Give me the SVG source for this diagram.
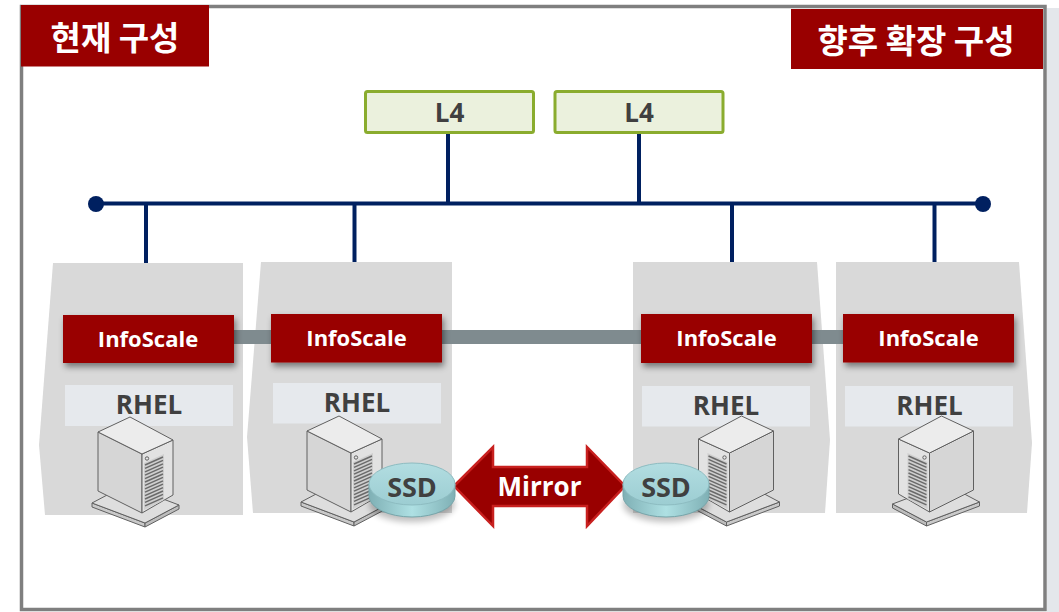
<svg xmlns="http://www.w3.org/2000/svg" xmlns:xlink="http://www.w3.org/1999/xlink" width="1059" height="612" viewBox="0 0 1059 612">
  <style>
    .frame { fill: #ffffff; stroke: #7f7f7f; stroke-width: 3.5; }
    .tag { fill: #990000; }
    .tag-text { font-family: "Noto Sans CJK KR", "Noto Sans", sans-serif; font-weight: 700; font-size: 33px; fill: #ffffff; }
    .l4 { fill: #ebf1dd; stroke: #8aac2e; stroke-width: 3; }
    .l4-text { font-family: "Open Sans", "Liberation Sans", sans-serif; font-weight: 700; font-size: 26px; fill: #404040; text-anchor: middle; }
    .net { stroke: #002060; stroke-width: 4; fill: none; }
    .panel { fill: #d9d9d9; }
    .hb { fill: #7f8b8f; }
    .infoscale { fill: #990000; }
    .is-text { font-family: "Open Sans", "Liberation Sans", sans-serif; font-weight: 700; font-size: 22px; fill: #ffffff; text-anchor: middle; }
    .os { fill: #e6e9ed; }
    .os-text { font-family: "Open Sans", "Liberation Sans", sans-serif; font-weight: 700; font-size: 26px; fill: #404040; text-anchor: middle; }
    .srv { stroke: #606060; stroke-width: 1; stroke-linejoin: round; }
    .vent { stroke: #6a6a6a; stroke-width: 1.4; }
    .disk-text { font-family: "Open Sans", "Liberation Sans", sans-serif; font-weight: 700; font-size: 27px; fill: #404040; text-anchor: middle; }
    .mirror-text { font-family: "Open Sans", "Liberation Sans", sans-serif; font-weight: 700; font-size: 26px; fill: #ffffff; text-anchor: middle; }
  </style>
  <defs>
    <filter id="shadow" x="-20%" y="-30%" width="140%" height="180%">
      <feDropShadow dx="2" dy="4" stdDeviation="3" flood-color="#000000" flood-opacity="0.45"/>
    </filter>
    <filter id="soft" x="-50%" y="-50%" width="200%" height="200%">
      <feGaussianBlur stdDeviation="3"/>
    </filter>
    <linearGradient id="diskSide" x1="0" y1="0" x2="1" y2="0">
      <stop offset="0" stop-color="#7fb0b5"/>
      <stop offset="0.5" stop-color="#aee0e3"/>
      <stop offset="1" stop-color="#7fb0b5"/>
    </linearGradient>
    <linearGradient id="diskTop" x1="0" y1="0" x2="0" y2="1">
      <stop offset="0" stop-color="#b2dde1"/>
      <stop offset="1" stop-color="#9ccdd2"/>
    </linearGradient>
    <!-- tower server, top vertex at origin, grille on the right face -->
    <g id="server">
      <polygon class="srv" fill="#c9c9c9" points="-38,86 15,106 15,110 -38,90"/>
      <polygon class="srv" fill="#bdbdbd" points="15,106 49,88 49,92 15,110"/>
      <polygon class="srv" fill="#dedede" points="-4,68 49,88 15,106 -38,86"/>
      <polygon class="srv" fill="#d6d6d6" points="-32,15 12,37 12,96 -32,74"/>
      <polygon class="srv" fill="#e2e2e2" points="12,37 43,23 43,78 12,96"/>
      <polygon class="srv" fill="#ececec" points="0,0 43,23 12,37 -32,15"/>
      <polygon fill="#cfcfcf" points="14,46 34,37 34,83 14,93"/>
      <g class="vent">
        <line x1="15" y1="48" x2="33" y2="40"/>
        <line x1="15" y1="51.4" x2="33" y2="43.4"/>
        <line x1="15" y1="54.8" x2="33" y2="46.8"/>
        <line x1="15" y1="58.2" x2="33" y2="50.2"/>
        <line x1="15" y1="61.6" x2="33" y2="53.6"/>
        <line x1="15" y1="65" x2="33" y2="57"/>
        <line x1="15" y1="68.4" x2="33" y2="60.4"/>
        <line x1="15" y1="71.8" x2="33" y2="63.8"/>
        <line x1="15" y1="75.2" x2="33" y2="67.2"/>
        <line x1="15" y1="78.6" x2="33" y2="70.6"/>
        <line x1="15" y1="82" x2="33" y2="74"/>
        <line x1="15" y1="85.4" x2="33" y2="77.4"/>
        <line x1="15" y1="88.8" x2="33" y2="80.8"/>
      </g>
      <circle class="srv" cx="17" cy="41.5" r="1.7" fill="#e8e8e8"/>
    </g>
    <!-- SSD cylinder centred on the origin of its top face -->
    <g id="disk">
      <ellipse cx="0" cy="20" rx="43" ry="18" fill="#000000" opacity="0.25" filter="url(#soft)"/>
      <path d="M-43,0 L-43,12 A43,21 0 0 0 43,12 L43,0 Z" fill="url(#diskSide)" stroke="#76a5aa" stroke-width="1"/>
      <ellipse cx="0" cy="0" rx="43" ry="21" fill="url(#diskTop)" stroke="#8dbcc1" stroke-width="1"/>
    </g>
  </defs>

  <!-- background frame -->
  <rect x="1047" y="8" width="12" height="604" fill="#e4e7eb"/>
  <rect class="frame" x="21.5" y="6.5" width="1023.5" height="603"/>

  <!-- section tags -->
  <g id="tag-current">
    <rect class="tag" x="21" y="5" width="188" height="61.5"/>
    <text class="tag-text" x="115" y="36" text-anchor="middle" dominant-baseline="central">현재 구성</text>
  </g>
  <g id="tag-future">
    <rect class="tag" x="791" y="9" width="252" height="60"/>
    <text class="tag-text" x="916" y="39" text-anchor="middle" dominant-baseline="central">향후 확장 구성</text>
  </g>

  <!-- server panels -->
  <g id="panel-1"><polygon class="panel" points="53,263 243,263 243,515 45,515 39,445"/></g>
  <g id="panel-2"><polygon class="panel" points="261,262 452,262 452,513 253,513 247,437"/></g>
  <g id="panel-3"><polygon class="panel" points="633,262 817,262 830,440 825,513 633,513"/></g>
  <g id="panel-4"><polygon class="panel" points="836,262 1019,262 1032,443 1027,513 836,513"/></g>

  <!-- connectors -->
  <g id="connectors">
    <line class="net" x1="96" y1="203.5" x2="983" y2="203.5"/>
    <circle cx="96" cy="204" r="8" fill="#002060"/>
    <circle cx="983" cy="204" r="8" fill="#002060"/>
    <line class="net" x1="448" y1="133" x2="448" y2="203.5"/>
    <line class="net" x1="639" y1="133" x2="639" y2="203.5"/>
    <line class="net" x1="146" y1="203.5" x2="146" y2="263"/>
    <line class="net" x1="354.5" y1="203.5" x2="354.5" y2="262"/>
    <line class="net" x1="732" y1="203.5" x2="732" y2="262"/>
    <line class="net" x1="934.5" y1="203.5" x2="934.5" y2="262"/>
    <!-- heartbeat bar between cluster nodes -->
    <rect class="hb" x="230" y="330" width="615" height="14"/>
    <!-- mirror arrow -->
    <polygon points="454,486 493,447 493,467 587,467 587,447 625,486 587,526 587,506 493,506 493,526" fill="#990000" stroke="#c8201f" stroke-width="2.5" stroke-linejoin="miter"/>
    <text class="mirror-text" x="539.5" y="495.5">Mirror</text>
  </g>

  <!-- load balancers -->
  <g id="l4-a">
    <rect class="l4" x="365.5" y="91.5" width="168" height="41" rx="2"/>
    <text class="l4-text" x="449.5" y="121.5">L4</text>
  </g>
  <g id="l4-b">
    <rect class="l4" x="555" y="91.5" width="168" height="41" rx="2"/>
    <text class="l4-text" x="639" y="121.5">L4</text>
  </g>

  <!-- node 1 -->
  <g id="node-1">
    <rect class="infoscale" x="63" y="315" width="171" height="48" filter="url(#shadow)"/>
    <text class="is-text" x="148" y="346.5">InfoScale</text>
    <rect class="os" x="65" y="385" width="168" height="41"/>
    <text class="os-text" x="149" y="413.5">RHEL</text>
    <use xlink:href="#server" transform="translate(130,417)"/>
  </g>

  <!-- node 2 -->
  <g id="node-2">
    <rect class="infoscale" x="271" y="314" width="171" height="48.5" filter="url(#shadow)"/>
    <text class="is-text" x="356.5" y="346">InfoScale</text>
    <rect class="os" x="273" y="383" width="168" height="40.5"/>
    <text class="os-text" x="357" y="412">RHEL</text>
    <use xlink:href="#server" transform="translate(339,416)"/>
    <use xlink:href="#disk" transform="translate(412,484)"/>
    <text class="disk-text" x="412" y="497">SSD</text>
  </g>

  <!-- node 3 -->
  <g id="node-3">
    <rect class="infoscale" x="641" y="314" width="171" height="49" filter="url(#shadow)"/>
    <text class="is-text" x="726.5" y="346">InfoScale</text>
    <rect class="os" x="642" y="386" width="168" height="40.5"/>
    <text class="os-text" x="726" y="414.5">RHEL</text>
    <use xlink:href="#server" transform="translate(741.5,416) scale(-1,1)"/>
    <use xlink:href="#disk" transform="translate(666,484)"/>
    <text class="disk-text" x="666" y="497">SSD</text>
  </g>

  <!-- node 4 -->
  <g id="node-4">
    <rect class="infoscale" x="843" y="314" width="171" height="48.5" filter="url(#shadow)"/>
    <text class="is-text" x="928.5" y="346">InfoScale</text>
    <rect class="os" x="845" y="386" width="168" height="40.5"/>
    <text class="os-text" x="929.5" y="414.5">RHEL</text>
    <use xlink:href="#server" transform="translate(941.5,416) scale(-1,1)"/>
  </g>
</svg>
